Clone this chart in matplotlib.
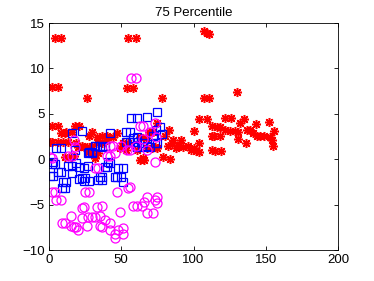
import matplotlib
matplotlib.use("Agg")
import matplotlib.pyplot as plt

red_x = [4, 8, 55, 60, 107, 109, 111, 2, 6, 54, 58, 26, 78, 107, 111, 130,
         104, 109, 122, 126, 135, 132, 143, 152, 156, 113, 116, 118, 122, 125, 129, 131,
         137, 139, 141, 144, 146, 149, 153, 114, 118, 100, 131, 136, 154, 155, 115, 119,
         84, 79, 83, 104, 86, 91, 80, 113, 75,
         82, 85, 88, 90, 93, 96, 100, 102, 104, 98, 113, 71, 75,
         2, 6, 12, 16, 18, 21, 30, 2, 6, 10, 13, 20, 24, 30, 34, 27, 30, 34, 17,
         37, 40, 47, 51, 55, 37, 49, 53, 61, 68, 73, 63, 72, 65, 8, 11, 1, 19, 23, 26,
         28, 33, 40, 44, 63, 66, 11, 15, 32, 67, 69]
red_y = [13.4, 13.4, 13.4, 13.4, 14.1, 13.9, 13.8, 8.0, 8.0, 7.8, 7.8, 6.7, 6.8, 6.7, 6.7, 7.4,
         4.4, 4.4, 4.5, 4.5, 4.4, 4.0, 3.9, 4.1, 3.1, 3.7, 3.6, 3.5, 3.2, 3.1, 3.1, 3.0,
         3.2, 3.2, 2.9, 2.6, 2.6, 2.6, 2.4, 2.6, 2.6, 3.1, 2.2, 1.8, 2.1, 1.5, 0.9, 0.9,
         0.0, 0.2, 3.2, 1.8, 2.1, 2.1, 2.6, 2.6, 4.0,
         1.5, 1.8, 1.2, 1.6, 1.3, 1.5, 1.2, 0.9, 0.8, 1.0, 1.0, 1.2, 1.2,
         3.7, 3.7, 3.0, 3.0, 3.7, 3.7, 3.0, 1.9, 1.9, 1.9, 1.9, 1.3, 1.3, 1.5, 1.8, 0.8, 0.7, 0.7, 0.4,
         2.6, 2.6, 2.9, 1.8, 1.8, 1.8, 1.2, 1.0, 1.0, 1.2, 1.3, 2.4, 3.0, 0.1, 2.9, 2.9, 1.9, 1.8, 1.5, 1.3,
         2.6, 2.4, 2.1, 2.4, -0.1, -0.1, 0.2, 0.2, 0.1, 2.3, 3.0]

blue_x = [57, 61, 68, 75, 16, 23, 42, 53, 56, 77, 74, 78,
          32, 35, 5, 8, 18, 27, 30, 37, 58, 61, 39, 53, 56, 65, 73, 75, 72,
          3, 6, 8, 1, 3, 10, 12, 9, 11, 16, 19, 21, 24, 23, 25, 27, 2, 4, 13, 16,
          21, 24, 28, 34, 37, 35, 37, 40, 42, 46, 50, 28, 30, 32, 58, 61, 61, 64,
          68, 70, 39, 41, 48, 51, 47, 51]
blue_y = [4.5, 4.5, 4.6, 5.2, 2.9, 3.1, 2.9, 3.0, 3.0, 3.6, 3.2, 2.8,
          1.5, 1.5, 1.2, 1.2, 1.0, 0.7, 0.7, 1.4, 1.9, 1.9, 1.5, 1.9, 1.9, 1.8, 1.8, 1.8, 2.6,
          -0.3, -1.4, -1.4, -1.8, -1.8, -2.5, -2.5, -3.2, -3.2, -0.7, -0.4, -0.9, -1.0, -2.1, -2.1, -0.7,
          -0.5, -0.5, -0.7, -1.5,
          -2.2, -2.4, -2.4, -2.3, -2.3, -1.9, -2.0, -0.8, -0.4, -2.0, -2.0, 0.8, 0.8, 1.5, 2.3, 2.4, 1.3, 1.3,
          1.5, 1.3, -0.9, -0.3, -1.0, -1.0, -2.0, -2.5]

mag_x = [57, 60, 63, 65, 70, 73, 74, 42, 44, 40, 54, 56, 17, 18, 13, 16, 1, 2, 32, 34,
         2, 4, 5, 8, 25, 28, 23, 24, 15, 33, 35, 42, 46, 73, 47, 55, 56, 58, 61, 64, 66,
         68, 72, 75, 49, 39, 42, 30, 32, 23, 27, 9, 11, 15, 17, 19, 20, 26, 35, 37, 42,
         46, 46, 48, 51, 51, 68, 73, 75, 37, 65, 60, 68, 50]
mag_y = [8.9, 8.9, 3.7, 3.7, 3.0, 4.0, 2.4, 1.5, 1.5, 0.4, 1.0, 1.0, 2.1, 1.3, 0.4, 0.4, 0.2, 0.1, -1.0, -1.0,
         -3.6, -3.6, -4.5, -4.5, -3.6, -3.6, -5.4, -5.3, -6.2, -5.3, -6.2, 0.4, 0.7, -0.3, -3.6, -3.2, -3.1,
         -5.1, -5.1, -5.1, -4.7, -5.9, -5.9, -4.2, -5.8, -6.7, -7.0, -6.4, -6.4, -6.5, -6.4, -7.0, -7.0,
         -7.3, -7.5, -7.5, -7.8, -7.3, -7.3, -7.5, -7.8, -8.2, -8.7, -7.8, -7.6, -8.2, -4.2, -4.5, -4.8,
         -5.1, 2.2, 1.5, 1.0, 1.5]

plt.rcParams['font.family'] = ['Liberation Sans', 'DejaVu Sans']
fig = plt.figure(figsize=(3.74, 2.81), dpi=100)
ax = fig.add_axes([0.131, 0.110, 0.773, 0.808])

ax.plot(red_x, red_y, linestyle='none', marker=(8, 2, 0), color='#ff0000',
        markersize=6.5, markeredgewidth=1.1)
ax.plot(blue_x, blue_y, linestyle='none', marker='s', markerfacecolor='none',
        markeredgecolor='#0000ff', markersize=5.5, markeredgewidth=0.9)
ax.plot(mag_x, mag_y, linestyle='none', marker='o', markerfacecolor='none',
        markeredgecolor='#ff00ff', markersize=6.5, markeredgewidth=0.9)

ax.set_xlim(0, 200)
ax.set_ylim(-10, 15)
ax.set_xticks([0, 50, 100, 150, 200])
ax.set_yticks([-10, -5, 0, 5, 10, 15])
ax.tick_params(direction='in', top=True, right=True, labelsize=9.5, length=3, width=0.6, pad=3)
for s in ax.spines.values():
    s.set_linewidth(0.6)
ax.set_title('75 Percentile', fontsize=9.5, pad=5)

fig.savefig('out.png', dpi=100)
